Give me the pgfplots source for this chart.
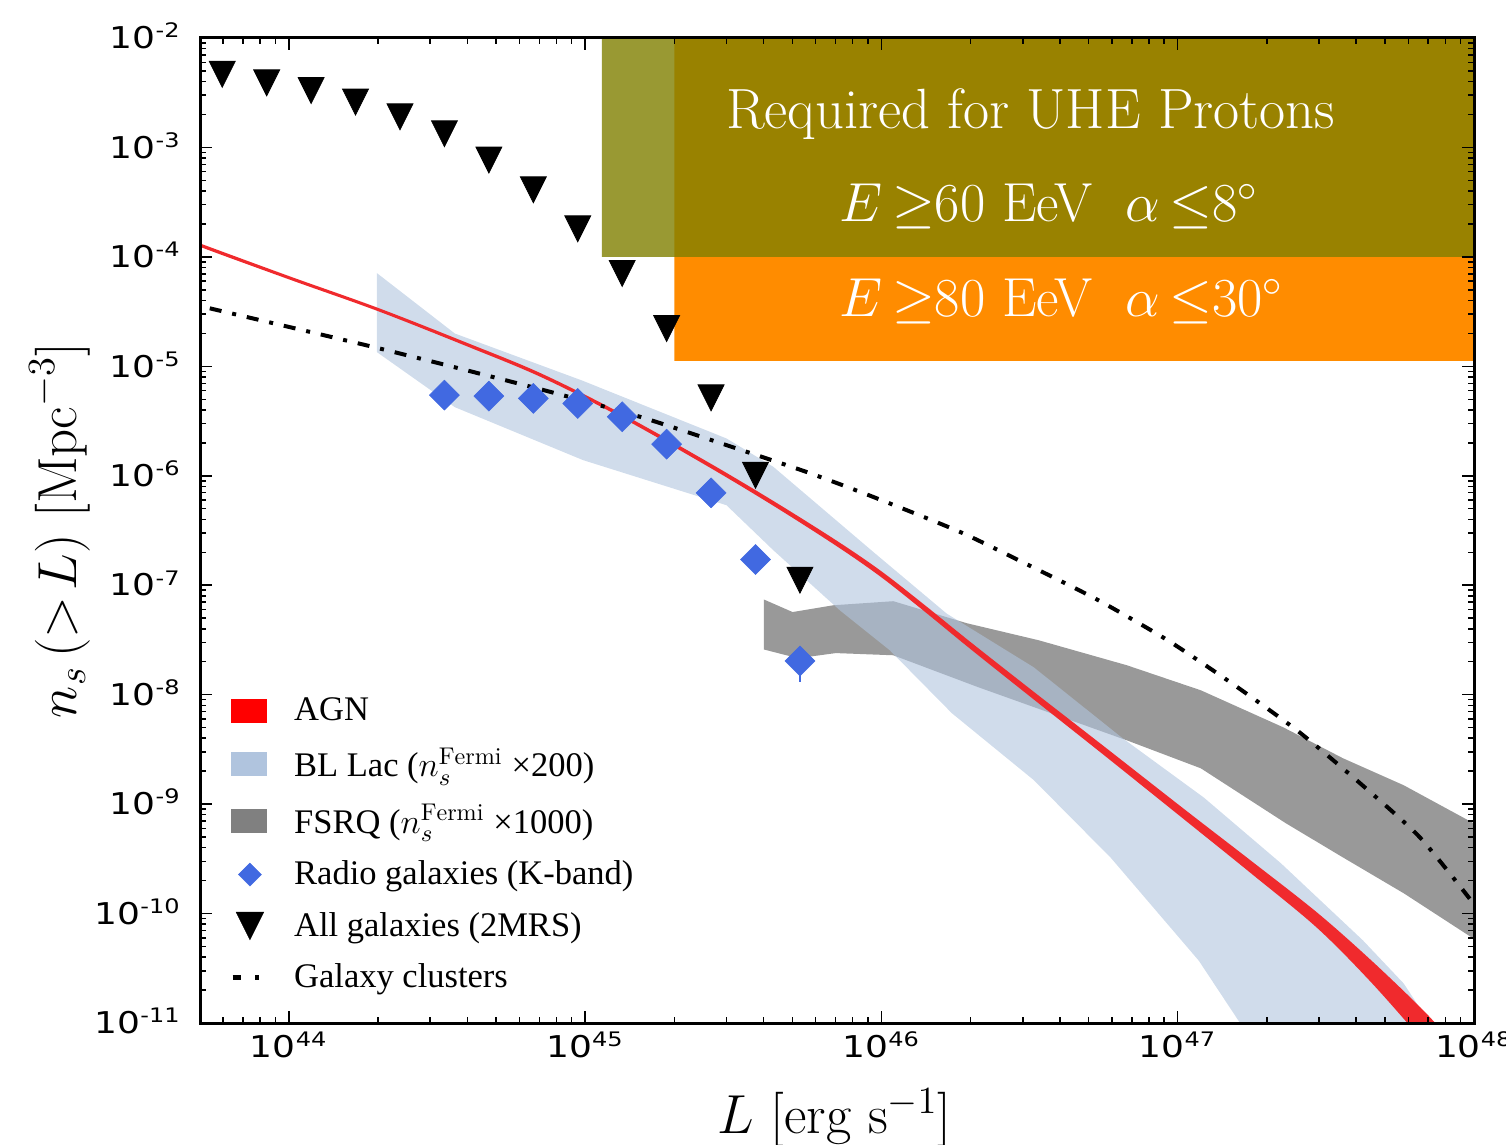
\RequirePackage{fix-cm}
\documentclass[border=0pt]{standalone}
\usepackage{fontspec}
\usepackage{graphicx}
\usepackage{pgfplots}
\pgfplotsset{compat=1.18}
\newfontfamily\legfontfam{Liberation Serif}
\newfontfamily\tickfontfam{DejaVu Sans}
\definecolor{royalblue}{HTML}{4169E1}
\definecolor{lsteel}{HTML}{B0C4DE}
\definecolor{agnred}{RGB}{240,42,45}
\definecolor{olivec}{HTML}{808000}
\definecolor{dorange}{HTML}{FF8C00}
\pgfdeclareplotmark{tridown}{%
 \pgfpathmoveto{\pgfqpoint{0pt}{-\pgfplotmarksize}}%
 \pgfpathlineto{\pgfqpoint{\pgfplotmarksize}{\pgfplotmarksize}}%
 \pgfpathlineto{\pgfqpoint{-\pgfplotmarksize}{\pgfplotmarksize}}%
 \pgfpathclose\pgfusepathqfillstroke}
\pgfdeclareplotmark{dmd}{%
 \pgfpathmoveto{\pgfqpoint{0pt}{\pgfplotmarksize}}%
 \pgfpathlineto{\pgfqpoint{\pgfplotmarksize}{0pt}}%
 \pgfpathlineto{\pgfqpoint{0pt}{-\pgfplotmarksize}}%
 \pgfpathlineto{\pgfqpoint{-\pgfplotmarksize}{0pt}}%
 \pgfpathclose\pgfusepathqfillstroke}
\newcommand{\tl}[1]{\scalebox{1.2}[1]{10\textsuperscript{#1}}}
\begin{document}
\begin{tikzpicture}
\begin{axis}[
  name=ax,
  scale only axis,
  width=509.6pt, height=394pt,
  xmin=43.7, xmax=48, ymin=-11, ymax=-2,
  xtick={44,45,46,47,48},
  xticklabels={\tl{44},\tl{45},\tl{46},\tl{47},\tl{48}},
  ytick={-11,-10,-9,-8,-7,-6,-5,-4,-3,-2},
  yticklabels={\tl{-11},\tl{-10},\tl{-9},\tl{-8},\tl{-7},\tl{-6},\tl{-5},\tl{-4},\tl{-3},\tl{-2}},
  minor xtick={43.77815,43.84510,43.90309,43.95424,
   44.30103,44.47712,44.60206,44.69897,44.77815,44.84510,44.90309,44.95424,
   45.30103,45.47712,45.60206,45.69897,45.77815,45.84510,45.90309,45.95424,
   46.30103,46.47712,46.60206,46.69897,46.77815,46.84510,46.90309,46.95424,
   47.30103,47.47712,47.60206,47.69897,47.77815,47.84510,47.90309,47.95424},
  minor ytick={-10.69897,-10.52288,-10.39794,-10.30103,-10.22185,-10.15490,-10.09691,-10.04576,
   -9.69897,-9.52288,-9.39794,-9.30103,-9.22185,-9.15490,-9.09691,-9.04576,
   -8.69897,-8.52288,-8.39794,-8.30103,-8.22185,-8.15490,-8.09691,-8.04576,
   -7.69897,-7.52288,-7.39794,-7.30103,-7.22185,-7.15490,-7.09691,-7.04576,
   -6.69897,-6.52288,-6.39794,-6.30103,-6.22185,-6.15490,-6.09691,-6.04576,
   -5.69897,-5.52288,-5.39794,-5.30103,-5.22185,-5.15490,-5.09691,-5.04576,
   -4.69897,-4.52288,-4.39794,-4.30103,-4.22185,-4.15490,-4.09691,-4.04576,
   -3.69897,-3.52288,-3.39794,-3.30103,-3.22185,-3.15490,-3.09691,-3.04576,
   -2.69897,-2.52288,-2.39794,-2.30103,-2.22185,-2.15490,-2.09691,-2.04576},
  tick align=inside,
  major tick length=4.8pt, minor tick length=2.4pt,
  every tick/.style={black, line width=0.6pt},
  axis line style={line width=1.2pt},
  ticklabel style={font=\tickfontfam\fontsize{12}{14}\selectfont},
  yticklabel style={anchor=base east, yshift=-4.3pt, xshift=-4pt},
  axis on top,
  xlabel={$L\ [\mathrm{erg\ s}^{-1}]$},
  ylabel={$n_s\,(>\!L)\ [\mathrm{Mpc}^{-3}]$},
  xlabel style={at={(axis description cs:0.498,-0.0964)}, anchor=center, font=\fontsize{22}{26}\selectfont},
  ylabel style={at={(axis description cs:-0.11,0.5)}, anchor=center, font=\fontsize{22}{26}\selectfont},
  legend cell align=left,
  legend style={at={(rel axis cs:0.0235,0.331)}, anchor=north west, draw=none, fill=none,
    inner sep=0pt, row sep=9.5pt, column sep=10pt, nodes={inner sep=0pt},
    font=\legfontfam\fontsize{13.8}{16}\selectfont},
]
% legend entries
\addlegendimage{legend image code/.code={\fill[red] (0pt,-4.6pt) rectangle (14pt,4.6pt);}}
\addlegendentry{AGN}
\addlegendimage{legend image code/.code={\fill[lsteel] (0pt,-4.6pt) rectangle (14pt,4.6pt);}}
\addlegendentry{BL Lac ($n_s^{\mathrm{Fermi}}$ ×200)}
\addlegendimage{legend image code/.code={\fill[gray] (0pt,-4.6pt) rectangle (14pt,4.6pt);}}
\addlegendentry{FSRQ ($n_s^{\mathrm{Fermi}}$ ×1000)}
\addlegendimage{legend image code/.code={\path[draw=none, fill=none] (0pt,-4.6pt) rectangle (14pt,4.6pt);
  \path[draw=none] plot[mark=dmd, mark size=4.6pt, mark options={fill=royalblue, draw=royalblue, line width=0.2pt}] coordinates {(7.2pt,0pt)};}}
\addlegendentry{Radio galaxies (K-band)}
\addlegendimage{legend image code/.code={\path[draw=none, fill=none] (0pt,-4.6pt) rectangle (14pt,4.6pt);
  \path[draw=none] plot[mark=tridown, mark size=5.5pt, mark options={fill=black, draw=black, line width=0.2pt}] coordinates {(7.2pt,0pt)};}}
\addlegendentry{All galaxies (2MRS)}
\addlegendimage{legend image code/.code={\path[draw=none, fill=none] (0pt,-4.6pt) rectangle (14pt,4.6pt);
  \draw[black, line width=1.8pt, dash pattern=on 3.5pt off 5.6pt on 1.3pt off 20pt] (0.3pt,0pt) -- (14pt,0pt);}}
\addlegendentry{Galaxy clusters}

% UHE boxes
\addplot[forget plot, draw=none, fill=dorange] coordinates {(45.301,-4.95)(48.1,-4.95)(48.1,-1.9)(45.301,-1.9)(45.301,-4.95)};
\addplot[forget plot, draw=none, fill=olivec, fill opacity=0.8] coordinates {(45.056,-4.0)(48.1,-4.0)(48.1,-1.9)(45.056,-1.9)(45.056,-4.0)};

% FSRQ band
\addplot[forget plot, draw=none, fill=gray, fill opacity=0.8] coordinates {
(45.603,-7.13)(45.70,-7.245)(45.838,-7.183)(46.04,-7.146)(46.288,-7.347)(46.531,-7.503)(46.828,-7.731)(47.078,-7.96)(47.356,-8.298)(47.557,-8.58)(47.763,-8.828)(48.05,-9.25)
(48.05,-10.32)(47.763,-9.815)(47.557,-9.486)(47.365,-9.175)(47.078,-8.673)(46.828,-8.417)(46.325,-7.93)(46.04,-7.64)(45.846,-7.62)(45.718,-7.667)(45.603,-7.587)(45.603,-7.13)};

% BL Lac band
\addplot[forget plot, draw=none, fill=lsteel, fill opacity=0.6] coordinates {
(44.297,-4.148)(44.56,-4.70)(44.99,-5.13)(45.477,-5.659)(45.635,-5.918)(45.972,-6.695)(46.22,-7.259)(46.514,-7.75)(46.81,-8.39)(47.088,-8.94)(47.348,-9.54)(47.625,-10.245)(47.763,-10.64)(47.886,-11.15)
(47.247,-11.15)(47.071,-10.43)(46.774,-9.49)(46.514,-8.78)(46.238,-8.17)(46.028,-7.594)(45.86,-7.23)(45.635,-6.68)(45.477,-6.269)(44.993,-5.857)(44.56,-5.373)(44.297,-4.87)(44.297,-4.148)};

% AGN band
\addplot[forget plot, draw=none, fill=agnred, smooth, tension=0.55] coordinates {
(43.68,-3.857)(44.00,-4.175)(44.30,-4.465)(44.60,-4.784)(44.85,-5.063)(45.12,-5.428)(45.41,-5.868)(45.64,-6.238)(45.85,-6.595)(46.00,-6.873)(46.15,-7.19)(46.30,-7.518)(46.51,-7.965)(46.75,-8.47)(47.03,-9.063)(47.25,-9.523)(47.47,-9.99)(47.65,-10.42)(47.82,-10.86)(47.90,-11.1)(47.95,-11.3)
(47.90,-11.4)(47.82,-11.14)(47.65,-10.62)(47.47,-10.13)(47.25,-9.638)(47.03,-9.158)(46.75,-8.55)(46.51,-8.035)(46.30,-7.582)(46.15,-7.25)(46.00,-6.928)(45.85,-6.645)(45.64,-6.282)(45.41,-5.908)(45.12,-5.464)(44.85,-5.097)(44.60,-4.816)(44.30,-4.495)(44.00,-4.205)(43.68,-3.887)(43.68,-3.857)};

% Radio galaxies
\addplot[forget plot, only marks, mark=dmd, mark size=6pt, mark options={fill=royalblue, draw=royalblue, line width=0.2pt}] coordinates {
(44.525,-5.263)(44.675,-5.272)(44.825,-5.293)(44.975,-5.339)(45.125,-5.461)(45.275,-5.711)(45.425,-6.156)(45.575,-6.765)};
\addplot[forget plot, only marks, mark=dmd, mark size=6pt, mark options={fill=royalblue, draw=royalblue, line width=0.2pt},
  error bars/.cd, y dir=minus, y explicit, error mark=none, error bar style={royalblue, line width=1pt}] coordinates {
(45.725,-7.692) -= (0,0.19)};

% Galaxy clusters
\addplot[forget plot, black, line width=1.6pt, dash pattern=on 4.8pt off 4.4pt on 1.6pt off 4.4pt, smooth, tension=0.4] coordinates {
(43.733,-4.47)(44.32,-4.846)(44.847,-5.208)(45.185,-5.461)(45.477,-5.72)(45.747,-5.965)(45.972,-6.193)(46.265,-6.513)(46.497,-6.817)(46.732,-7.137)(46.966,-7.503)(47.192,-7.914)(47.409,-8.34)(47.617,-8.813)(47.816,-9.30)(47.99,-9.88)};

% All galaxies
\addplot[forget plot, only marks, mark=tridown, mark size=5.2pt, mark options={fill=black, draw=black, line width=0.3pt}] coordinates {
(43.775,-2.331)(43.925,-2.41)(44.075,-2.48)(44.225,-2.585)(44.375,-2.72)(44.525,-2.875)(44.675,-3.115)(44.825,-3.387)(44.975,-3.743)(45.125,-4.151)(45.275,-4.654)(45.425,-5.288)(45.575,-5.995)(45.725,-6.954)};

\node[white, anchor=base, font=\fontsize{22.7}{27}\selectfont] at (axis cs:46.504,-2.823) {Required for UHE Protons};
\node[white, anchor=base west, font=\fontsize{22}{26}\selectfont] at (axis cs:45.83,-3.679) {$E\,{\geq}60$ EeV\hspace{0.6em}$\alpha\,{\leq}8^\circ$};
\node[white, anchor=base west, font=\fontsize{22}{26}\selectfont] at (axis cs:45.83,-4.547) {$E\,{\geq}80$ EeV\hspace{0.6em}$\alpha\,{\leq}30^\circ$};
\end{axis}
\pgfresetboundingbox
\path[use as bounding box] ([shift={(-80pt,-48.4pt)}]ax.south west) rectangle ([shift={(12.8pt,15.2pt)}]ax.north east);
\end{tikzpicture}
\end{document}
